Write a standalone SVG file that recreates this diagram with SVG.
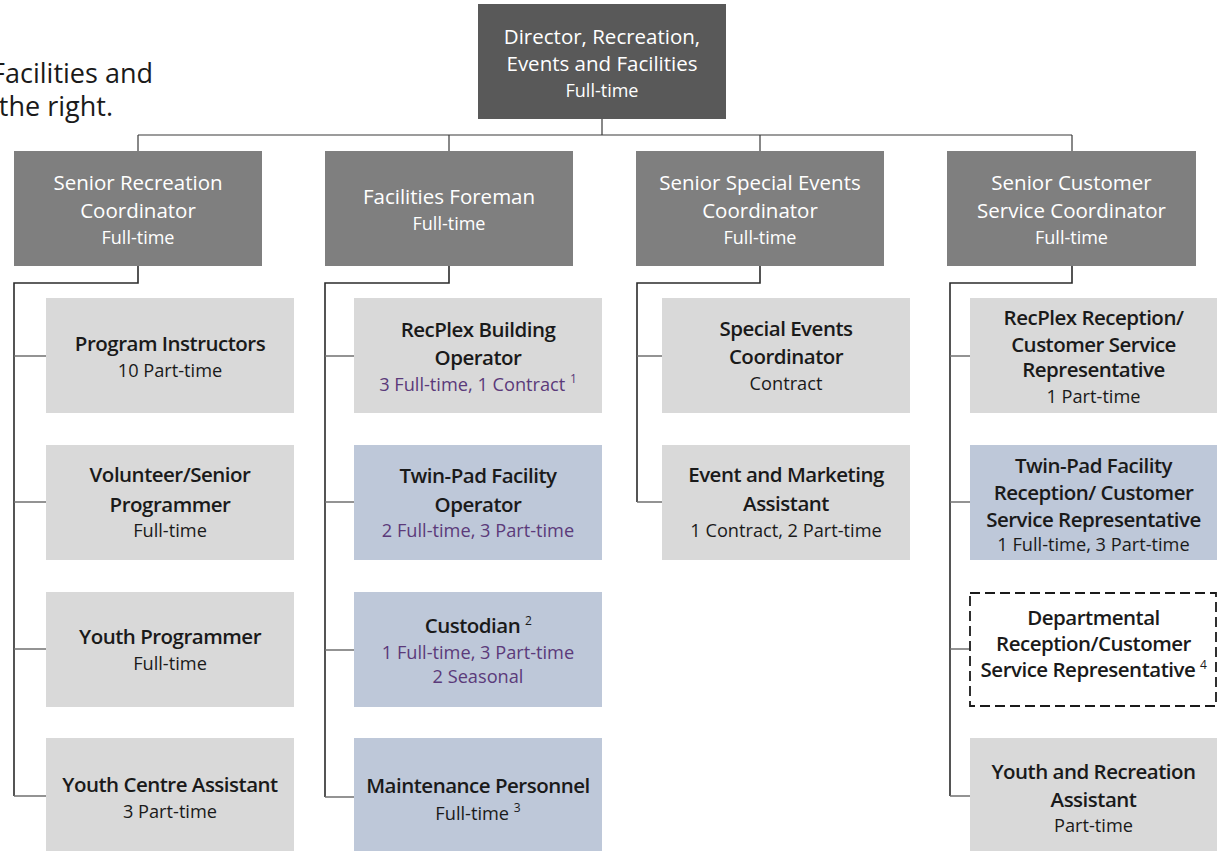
<svg xmlns="http://www.w3.org/2000/svg" width="1224" height="851" viewBox="0 0 1224 851">
<style>
text{font-family:"Open Sans","Liberation Sans",sans-serif;text-anchor:middle}
.top{fill:#595959}
.hdr{fill:#7f7f7f}
.lt{fill:#d9d9d9}
.bl{fill:#bec8d9}
.dash{fill:#ffffff;stroke:#1a1a1a;stroke-width:1.8;stroke-dasharray:10 5}
.ht{fill:#ffffff;font-size:20.5px}
.hs{fill:#ffffff;font-size:18px}
.t{fill:#1a1a1a;font-size:20.5px;font-weight:600;letter-spacing:-0.5px}
.s{fill:#1a1a1a;font-size:18.2px}
.p{fill:#5b3a7a;font-size:18.2px}
.sup{font-size:12px}
.trunk{fill:none;stroke:#2b2b2b;stroke-width:1.6}
.thin{fill:none;stroke:#3a3a3a;stroke-width:1.2}
.tick{fill:none;stroke:#707070;stroke-width:1.6}
.note{fill:#1a1a1a;font-size:27px;text-anchor:end}
</style>

<g id="intro-text">
<text class="note" x="153" y="83">Facilities and</text>
<text class="note" x="113" y="116">the right.</text>
</g>

<g id="connectors">
<path class="thin" d="M602 119V135M138 135H1072M138 135V151M449 135V151M760 135V151M1072 135V151"/>
<path class="trunk" d="M138 266V283H14V796M449 266V283H325V797M760 266V283H637V502M1072 266V283H950V796"/>
<path class="tick" d="M14 356H46M14 502H46M14 649H46M14 796H46"/>
<path class="tick" d="M325 356H354M325 502H354M325 650H354M325 797H354"/>
<path class="tick" d="M637 356H662M637 502H662"/>
<path class="tick" d="M950 356H970M950 502H970M950 649H969M950 796H970"/>
</g>

<g id="director">
<rect class="top" x="478" y="4" width="248" height="115"/>
<text class="ht" x="602" y="44">Director, Recreation,</text>
<text class="ht" x="602" y="71">Events and Facilities</text>
<text class="hs" x="602" y="97">Full-time</text>
</g>

<g id="senior-recreation-coordinator">
<rect class="hdr" x="14" y="151" width="248" height="115"/>
<text class="ht" x="138" y="190">Senior Recreation</text>
<text class="ht" x="138" y="218">Coordinator</text>
<text class="hs" x="138" y="244">Full-time</text>
</g>

<g id="facilities-foreman">
<rect class="hdr" x="325" y="151" width="248" height="115"/>
<text class="ht" x="449" y="204">Facilities Foreman</text>
<text class="hs" x="449" y="230">Full-time</text>
</g>

<g id="senior-special-events-coordinator">
<rect class="hdr" x="636" y="151" width="248" height="115"/>
<text class="ht" x="760" y="190">Senior Special Events</text>
<text class="ht" x="760" y="218">Coordinator</text>
<text class="hs" x="760" y="244">Full-time</text>
</g>

<g id="senior-customer-service-coordinator">
<rect class="hdr" x="947" y="151" width="249" height="115"/>
<text class="ht" x="1071.5" y="190">Senior Customer</text>
<text class="ht" x="1071.5" y="218">Service Coordinator</text>
<text class="hs" x="1071.5" y="244">Full-time</text>
</g>

<g id="program-instructors">
<rect class="lt" x="46" y="298" width="248" height="115"/>
<text class="t" x="170" y="351">Program Instructors</text>
<text class="s" x="170" y="377">10 Part-time</text>
</g>

<g id="volunteer-senior-programmer">
<rect class="lt" x="46" y="445" width="248" height="115"/>
<text class="t" x="170" y="482">Volunteer/Senior</text>
<text class="t" x="170" y="512">Programmer</text>
<text class="s" x="170" y="537">Full-time</text>
</g>

<g id="youth-programmer">
<rect class="lt" x="46" y="592" width="248" height="115"/>
<text class="t" x="170" y="644">Youth Programmer</text>
<text class="s" x="170" y="670">Full-time</text>
</g>

<g id="youth-centre-assistant">
<rect class="lt" x="46" y="738" width="248" height="113"/>
<text class="t" x="170" y="792">Youth Centre Assistant</text>
<text class="s" x="170" y="818">3 Part-time</text>
</g>

<g id="recplex-building-operator">
<rect class="lt" x="354" y="298" width="248" height="115"/>
<text class="t" x="478" y="337">RecPlex Building</text>
<text class="t" x="478" y="365">Operator</text>
<text class="p" x="478" y="391">3 Full-time, 1 Contract <tspan class="sup" dy="-8">1</tspan></text>
</g>

<g id="twin-pad-facility-operator">
<rect class="bl" x="354" y="445" width="248" height="115"/>
<text class="t" x="478" y="483">Twin-Pad Facility</text>
<text class="t" x="478" y="512">Operator</text>
<text class="p" x="478" y="537">2 Full-time, 3 Part-time</text>
</g>

<g id="custodian">
<rect class="bl" x="354" y="592" width="248" height="115"/>
<text class="t" x="478" y="633">Custodian <tspan class="sup" dy="-8" style="font-weight:400">2</tspan></text>
<text class="p" x="478" y="659">1 Full-time, 3 Part-time</text>
<text class="p" x="478" y="683">2 Seasonal</text>
</g>

<g id="maintenance-personnel">
<rect class="bl" x="354" y="738" width="248" height="113"/>
<text class="t" x="478" y="793">Maintenance Personnel</text>
<text class="s" x="478" y="820">Full-time <tspan class="sup" dy="-8">3</tspan></text>
</g>

<g id="special-events-coordinator">
<rect class="lt" x="662" y="298" width="248" height="115"/>
<text class="t" x="786" y="336">Special Events</text>
<text class="t" x="786" y="364">Coordinator</text>
<text class="s" x="786" y="390">Contract</text>
</g>

<g id="event-and-marketing-assistant">
<rect class="lt" x="662" y="445" width="248" height="115"/>
<text class="t" x="786" y="482">Event and Marketing</text>
<text class="t" x="786" y="511">Assistant</text>
<text class="s" x="786" y="537">1 Contract, 2 Part-time</text>
</g>

<g id="recplex-reception">
<rect class="lt" x="970" y="298" width="247" height="115"/>
<text class="t" x="1093.5" y="325">RecPlex Reception/</text>
<text class="t" x="1093.5" y="352">Customer Service</text>
<text class="t" x="1093.5" y="377">Representative</text>
<text class="s" x="1093.5" y="403">1 Part-time</text>
</g>

<g id="twin-pad-facility-reception">
<rect class="bl" x="970" y="445" width="247" height="115"/>
<text class="t" x="1093.5" y="473">Twin-Pad Facility</text>
<text class="t" x="1093.5" y="500">Reception/ Customer</text>
<text class="t" x="1093.5" y="527">Service Representative</text>
<text class="s" x="1093.5" y="551">1 Full-time, 3 Part-time</text>
</g>

<g id="departmental-reception">
<rect class="dash" x="970" y="593" width="246" height="113"/>
<text class="t" x="1093.5" y="625">Departmental</text>
<text class="t" x="1093.5" y="651">Reception/Customer</text>
<text class="t" x="1093.5" y="677">Service Representative <tspan class="sup" dy="-8" style="font-weight:400">4</tspan></text>
</g>

<g id="youth-and-recreation-assistant">
<rect class="lt" x="970" y="738" width="247" height="113"/>
<text class="t" x="1093.5" y="779">Youth and Recreation</text>
<text class="t" x="1093.5" y="807">Assistant</text>
<text class="s" x="1093.5" y="832">Part-time</text>
</g>
</svg>
